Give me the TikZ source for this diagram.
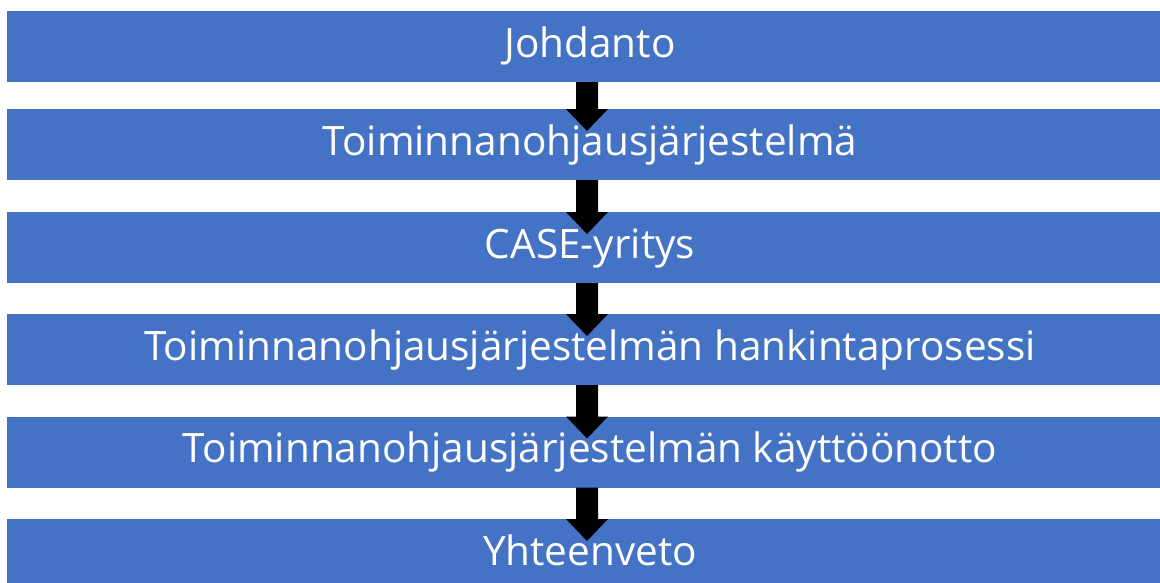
\documentclass[tikz,border=0pt]{standalone}
\usepackage{fontspec}
\setmainfont{Open Sans}
\usetikzlibrary{calc}
\definecolor{boxblue}{HTML}{4472C4}
\tikzset{
  box/.style={fill=boxblue, draw=none, rectangle, inner sep=0pt, outer sep=0pt,
    minimum width=1166pt, minimum height=71pt, text=white,
    font=\fontsize{40.5pt}{46pt}\selectfont, text height=29pt, text depth=8pt},
  arrowc/.style={fill=black}
}
\begin{document}
\begin{tikzpicture}[x=1pt,y=-1pt]
\useasboundingbox (0,0) rectangle (1160,582);
\clip (0,0) rectangle (1160,582);
\fill[white] (0,0) rectangle (1160,582);
\coordinate (ax) at (587,0);
\node[box] (b1) at (590,46.5) {Johdanto};
\node[box] (b2) at (590,144.5) {Toiminnanohjausjärjestelmä};
\node[box] (b3) at (590,247.5) {CASE-yritys};
\node[box] (b4) at (590,349.5) {Toiminnanohjausjärjestelmän hankintaprosessi};
\node[box] (b5) at (590,452) {Toiminnanohjausjärjestelmän käyttöönotto};
\node[box] (b6) at (590,554.5) {Yhteenveto};
\foreach \a/\b in {b1/b2,b2/b3,b3/b4,b4/b5,b5/b6} {
  \fill[arrowc] ($(\a.south -| ax)+(-11,0)$) -- ($(\b.north -| ax)+(-11,0)$)
    -- ($(\b.north -| ax)+(-21,0)$) -- ($(\b.north -| ax)+(0,22)$)
    -- ($(\b.north -| ax)+(21,0)$) -- ($(\b.north -| ax)+(11,0)$)
    -- ($(\a.south -| ax)+(11,0)$) -- cycle;
}
\end{tikzpicture}
\end{document}
